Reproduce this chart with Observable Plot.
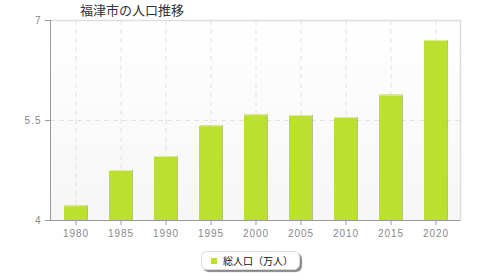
<!DOCTYPE html>
<html><head><meta charset="utf-8">
<script src="https://cdn.jsdelivr.net/npm/d3@7"></script>
<script src="https://cdn.jsdelivr.net/npm/@observablehq/plot@0.6"></script>
<style>
body{margin:0;background:#fff;}
#wrap{position:relative;width:480px;height:280px;overflow:hidden;font-family:"Noto Sans CJK JP",sans-serif;}
#chart{position:absolute;left:0;top:0;}
#title{position:absolute;left:80px;top:1px;font-size:13px;color:#333;line-height:18px;white-space:nowrap;}
#legend{position:absolute;left:201px;top:251px;width:97px;height:17px;border-radius:6px;background:#fff;border:1px solid #ddd;box-shadow:2px 2px 1px #888;font-size:10px;line-height:17px;color:#111;white-space:nowrap;}
#legend .sw{display:inline-block;width:6px;height:6px;background:#bce02e;margin:0 6px 0 9px;vertical-align:1px;}
svg text{font-family:"Liberation Sans",Arial,sans-serif;letter-spacing:1px;}
</style></head>
<body><div id="wrap"><div id="chart"></div><div id="title">福津市の人口推移</div><div id="legend"><span class="sw"></span>総人口（万人）</div></div>
<script>
const years = ["1980","1985","1990","1995","2000","2005","2010","2015","2020"];
const population = [4.22, 4.75, 4.96, 5.42, 5.585, 5.575, 5.545, 5.88, 6.70];
const yTicks = [4, 5.5, 7];
const seriesName = "総人口（万人）";

const data = years.map((y, i) => ({year: y, value: population[i]}));

const chart = Plot.plot({
  width: 480,
  height: 240,
  marginLeft: 50,
  marginRight: 20,
  marginTop: 20,
  marginBottom: 20,
  style: {background: "transparent", fontSize: "10px"},
  x: {type: "band", domain: years, paddingInner: 0.5, paddingOuter: 0.25, label: null},
  y: {domain: [4, 7], label: null},
  marks: [
    Plot.frame({fill: "url(#bgGrad)", stroke: null}),
    Plot.ruleX(years, {x: d => d, stroke: "#e2e2e2", strokeDasharray: "5,4"}),
    Plot.ruleY([5.5], {stroke: "#e2e2e2", strokeDasharray: "5,4"}),
    Plot.ruleY([7], {stroke: "#dddddd", strokeWidth: 1.5}),
    Plot.frame({anchor: "right", stroke: "#dddddd", strokeWidth: 1.5}),
    Plot.barY(data, {x: "year", y1: 4, y2: "value", fill: "#8a9a50", fillOpacity: 0.6, dx: 1}),
    Plot.barY(data, {x: "year", y1: 4, y2: "value", fill: "#bce02e"}),
    Plot.ruleY(data, {x1: "year", x2: "year", y: "value", stroke: "#dff08a", strokeWidth: 1}),
    Plot.frame({anchor: "left", stroke: "#999"}),
    Plot.ruleY([4], {stroke: "#999", insetLeft: -5}),
    Plot.axisY({ticks: yTicks, tickFormat: d => String(d), tickSize: 5, tickPadding: 4, stroke: "#999", fill: "#888", label: null}),
    Plot.axisX({tickSize: 5, tickPadding: 4, stroke: "#999", fill: "#888", label: null})
  ]
});

const ns = "http://www.w3.org/2000/svg";
const defs = document.createElementNS(ns, "defs");
defs.innerHTML = '<linearGradient id="bgGrad" x1="0" y1="0" x2="0" y2="1"><stop offset="0" stop-color="#ffffff"/><stop offset="1" stop-color="#f6f6f6"/></linearGradient>';
chart.insertBefore(defs, chart.firstChild);
document.getElementById("chart").appendChild(chart);
</script>
</body></html>
